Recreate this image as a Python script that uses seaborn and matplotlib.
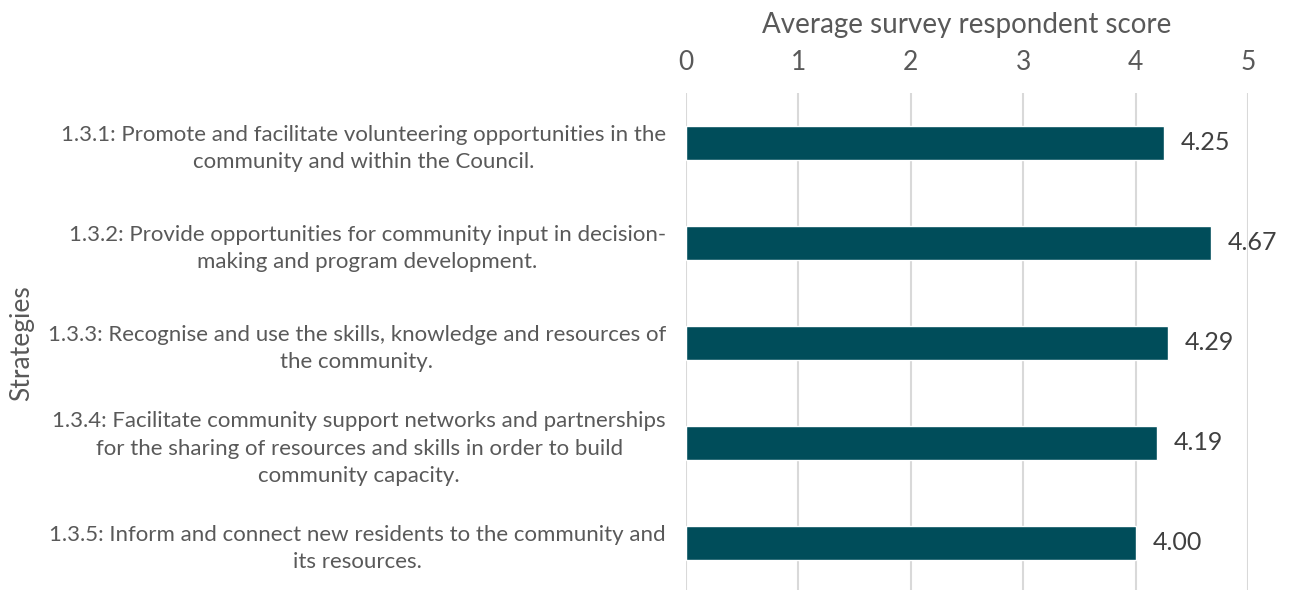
import matplotlib
matplotlib.use("Agg")
import matplotlib.pyplot as plt
import seaborn as sns
import pandas as pd

strategies = [
    "1.3.1: Promote and facilitate volunteering opportunities in the\ncommunity and within the Council.",
    "1.3.2: Provide opportunities for community input in decision-\nmaking and program development.",
    "1.3.3: Recognise and use the skills, knowledge and resources of\nthe community.",
    "1.3.4: Facilitate community support networks and partnerships\nfor the sharing of resources and skills in order to build\ncommunity capacity.",
    "1.3.5: Inform and connect new residents to the community and\nits resources.",
]
scores = [4.25, 4.67, 4.29, 4.19, 4.00]
x_ticks = [0, 1, 2, 3, 4, 5]

sns.set_theme(style="white")
plt.rcParams["font.family"] = ["Lato", "DejaVu Sans"]

text_color = "#595959"
bar_color = "#004d5a"
grid_color = "#d9d9d9"

df = pd.DataFrame({"Strategy": strategies, "Score": scores})

fig = plt.figure(figsize=(12.91, 5.90), dpi=100)
ax = fig.add_axes([0.5314, -0.005, 0.4353, 0.8474])

sns.barplot(data=df, x="Score", y="Strategy", orient="h", color=bar_color,
            width=0.34, saturation=1, ax=ax)

ax.set_xlim(0, 5)
ax.set_xticks(x_ticks)
ax.xaxis.tick_top()
ax.xaxis.set_label_position("top")
ax.set_xlabel("Average survey respondent score", fontsize=20, color=text_color, labelpad=12)
ax.set_ylabel("Strategies", fontsize=19, color=text_color)
ax.yaxis.set_label_coords(-1.16, 0.5)

ax.tick_params(axis="x", length=0, pad=13, labelsize=19, labelcolor=text_color)
ax.tick_params(axis="y", length=0, pad=14.5, labelsize=16, labelcolor=text_color)
for lbl in ax.get_yticklabels():
    lbl.set_multialignment("center")
    lbl.set_linespacing(1.45)

ax.grid(axis="x", color=grid_color, linewidth=1.5)
ax.set_axisbelow(True)
for s in ax.spines.values():
    s.set_visible(False)

for container in ax.containers:
    ax.bar_label(container, fmt="%.2f", padding=12, fontsize=18, color="#404040")

fig.savefig("out.png", dpi=100)
